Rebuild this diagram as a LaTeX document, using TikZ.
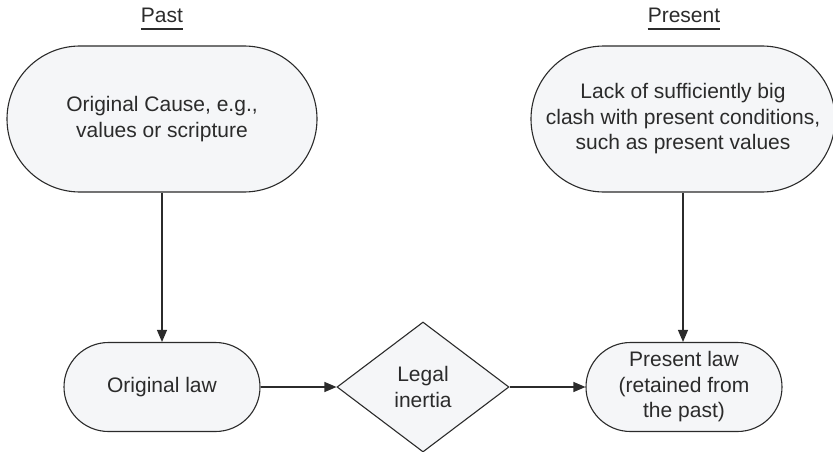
\documentclass[tikz,border=0pt]{standalone}
\usepackage{fontspec}
\setmainfont{Liberation Sans}
\usetikzlibrary{arrows.meta,shapes.misc,shapes.geometric}
\definecolor{boxfill}{HTML}{F5F6F8}
\definecolor{ink}{HTML}{2B2B2B}
\tikzset{
  every node/.style={font=\fontsize{21}{25.5}\selectfont, text=ink},
  terminal/.style={rounded rectangle, draw=ink, fill=boxfill, line width=1.1pt,
    align=center, inner sep=0pt},
  decision/.style={diamond, draw=ink, fill=boxfill, line width=1.1pt,
    align=center, inner sep=0pt},
  heading/.style={inner sep=0pt, anchor=base},
  flow/.style={draw=ink, line width=1.1pt, -{Triangle[length=12pt,width=10pt]}},
}
\begin{document}
\begin{tikzpicture}[x=1pt,y=-1pt]
  \useasboundingbox (0,0) rectangle (833,452);

  % column headings
  \node[heading] (past) at (162,23) {Past};
  \node[heading] (present) at (684,23) {Present};
  \draw[ink, line width=1.2pt] ([yshift=-6pt]past.base west) -- ([yshift=-6pt]past.base east);
  \draw[ink, line width=1.2pt] ([yshift=-6pt]present.base west) -- ([yshift=-6pt]present.base east);

  % causes
  \node[terminal, minimum width=310pt, minimum height=146pt] (cause) at (162,119)
    {Original Cause, e.g.,\\values or scripture};
  \node[terminal, minimum width=304pt, minimum height=146pt] (clash) at (683,119)
    {Lack of sufficiently big\\clash with present conditions,\\such as present values};

  % laws and inertia
  \node[terminal, minimum width=196pt, minimum height=89pt] (orig) at (162,387)
    {Original law};
  \node[decision, minimum width=172pt, minimum height=130pt] (inertia) at (423,387)
    {Legal\\inertia};
  \node[terminal, minimum width=196pt, minimum height=89pt] (now) at (684,387)
    {Present law\\(retained from\\the past)};

  % connectors
  \draw[flow] (cause.south) -- (orig.north);
  \draw[flow] (clash.south) -- (clash.south |- now.north);
  \draw[flow] (orig.east) -- (inertia.west);
  \draw[flow] (inertia.east) -- (now.west);
\end{tikzpicture}
\end{document}
